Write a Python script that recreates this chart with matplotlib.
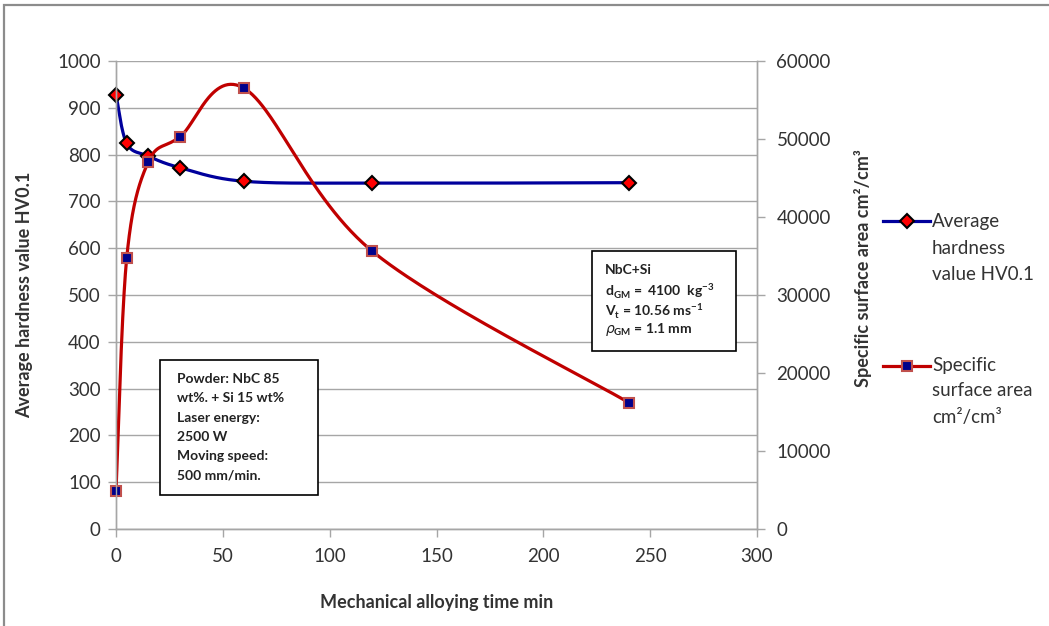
import numpy as np
from matplotlib import pyplot as plt
from matplotlib.lines import Line2D
from matplotlib.patches import Rectangle

plt.rcParams['font.family'] = ['Lato', 'DejaVu Sans']
plt.rcParams['mathtext.fontset'] = 'dejavusans'

# data
time_min = [0, 5, 15, 30, 60, 120, 240]
hardness = [928, 824, 797, 772, 743, 739, 740]
surface_area = [4900, 34700, 47000, 50300, 56500, 35600, 16200]

x_ticks = [0, 50, 100, 150, 200, 250, 300]
y1_ticks = list(range(0, 1001, 100))
y2_ticks = list(range(0, 60001, 10000))

W, H = 1049, 626


def smooth(xs, ys, n=60):
    # Excel-like smoothed line (Catmull-Rom as cubic Bezier)
    px = np.array(xs, float)
    py = np.array(ys, float)
    px = np.concatenate([[px[0]], px, [px[-1]]])
    py = np.concatenate([[py[0]], py, [py[-1]]])
    out_x, out_y = [], []
    t = np.linspace(0, 1, n)
    for i in range(1, len(px) - 2):
        p0 = np.array([px[i], py[i]])
        p3 = np.array([px[i + 1], py[i + 1]])
        c1 = p0 + (np.array([px[i + 1], py[i + 1]]) - np.array([px[i - 1], py[i - 1]])) / 6
        c2 = p3 - (np.array([px[i + 2], py[i + 2]]) - np.array([px[i], py[i]])) / 6
        b = ((1 - t) ** 3)[:, None] * p0 + (3 * (1 - t) ** 2 * t)[:, None] * c1 \
            + (3 * (1 - t) * t ** 2)[:, None] * c2 + (t ** 3)[:, None] * p3
        out_x.extend(b[:, 0])
        out_y.extend(b[:, 1])
    return out_x, out_y


def px2fig(x, y):
    return x / W, 1 - y / H


blue = '#00009C'
red = '#C00000'
grey = '#A6A6A6'
txt = '#333333'

fig = plt.figure(figsize=(W / 100, H / 100), dpi=100)
# outer chart border (only top and left edges fall inside the image)
fig.patches.append(Rectangle((4 / W, -0.5), 2, 1.5 - 5 / H, transform=fig.transFigure,
                             fill=False, edgecolor='#8C8C8C', linewidth=1.6))

ax = fig.add_axes([116 / W, 1 - 529 / H, 641 / W, 468 / H])
ax2 = ax.twinx()

sx, sy = smooth(time_min, hardness)
ax.plot(sx, sy, color=blue, linewidth=2.3, solid_capstyle='round')
ax.plot(time_min, hardness, linestyle='none', marker='D', markersize=7,
        markerfacecolor='#FF0000', markeredgecolor='black', markeredgewidth=1.5, clip_on=False)

sx2, sy2 = smooth(time_min, surface_area)
ax2.plot(sx2, sy2, color=red, linewidth=2.3, solid_capstyle='round')
ax2.plot(time_min, surface_area, linestyle='none', marker='s', markersize=6.5,
         markerfacecolor='#00008B', markeredgecolor='#C0504D', markeredgewidth=1.5, clip_on=False)

ax.set_xlim(0, 300)
ax.set_ylim(0, 1000)
ax2.set_ylim(0, 60000)
ax.set_xticks(x_ticks)
ax.set_yticks(y1_ticks)
ax2.set_yticks(y2_ticks)

ax.grid(axis='y', color=grey, linewidth=1)
ax.set_axisbelow(True)
for a in (ax, ax2):
    a.spines['top'].set_visible(False)
    for s in ('left', 'right', 'bottom'):
        a.spines[s].set_color(grey)
        a.spines[s].set_linewidth(1)
    a.tick_params(colors=grey, labelcolor=txt, labelsize=13.5, length=6, width=1, direction='out')
ax.tick_params(axis='y', pad=5)
ax.tick_params(axis='x', pad=8)
ax2.tick_params(axis='y', pad=8)

ax.set_xlabel('Mechanical alloying time min', fontsize=13, fontweight='bold', color=txt)
ax.set_ylabel('Average hardness value HV0.1', fontsize=13, fontweight='bold', color=txt)
ax2.set_ylabel('Specific surface area cm²/cm³', fontsize=13, fontweight='bold', color=txt)
ax.xaxis.set_label_coords(0.5, -0.139)
ax.yaxis.set_label_coords(-0.129, 0.5)
ax2.yaxis.set_label_coords(1.152, 0.558)

# text boxes
box1 = Rectangle(px2fig(160, 495), 158 / W, 135 / H, transform=fig.transFigure,
                 fill=True, facecolor='white', edgecolor='black', linewidth=1.2, zorder=5)
fig.patches.append(box1)
for i, line in enumerate(['Powder: NbC 85', 'wt%. + Si 15 wt%', 'Laser energy:',
                          '2500 W', 'Moving speed:', '500 mm/min.']):
    fig.text(*px2fig(177, 379 + i * 19.3), line, fontsize=10, fontweight='bold',
             color='#222222', va='center', ha='left', zorder=6)

box2 = Rectangle(px2fig(592, 351), 144 / W, 100 / H, transform=fig.transFigure,
                 fill=True, facecolor='white', edgecolor='black', linewidth=1.2, zorder=5)
fig.patches.append(box2)
lines2 = ['NbC+Si',
          r'd$_{\mathregular{GM}}$ =  4100  kg$^{\mathregular{-3}}$',
          r'V$_{\mathregular{t}}$ = 10.56 ms$^{\mathregular{-1}}$',
          r'$\rho_{\mathregular{GM}}$ = 1.1 mm']
for line, yy in zip(lines2, [270, 291, 310, 329]):
    fig.text(*px2fig(605, yy), line, fontsize=10, fontweight='bold',
             color='#222222', va='center', ha='left', zorder=6)


# legend
def legend_entry(y, color, marker, ms, mfc, mec, labels, ys):
    fig.lines.append(Line2D([883 / W, 930 / W], [1 - y / H] * 2, transform=fig.transFigure,
                            color=color, linewidth=2.3))
    fig.lines.append(Line2D([907 / W], [1 - y / H], transform=fig.transFigure, marker=marker,
                            markersize=ms, markerfacecolor=mfc, markeredgecolor=mec,
                            markeredgewidth=1.5, linestyle='none'))
    for lab, ly in zip(labels, ys):
        fig.text(*px2fig(932, ly), lab, fontsize=13.5, color=txt, va='center', ha='left')


legend_entry(221, blue, 'D', 7, '#FF0000', 'black',
             ['Average', 'hardness', 'value HV0.1'], [221, 248, 275])
legend_entry(366, red, 's', 6.5, '#00008B', '#C0504D',
             ['Specific', 'surface area', 'cm²/cm³'], [366, 391, 418])

fig.savefig('out.png', dpi=100)
